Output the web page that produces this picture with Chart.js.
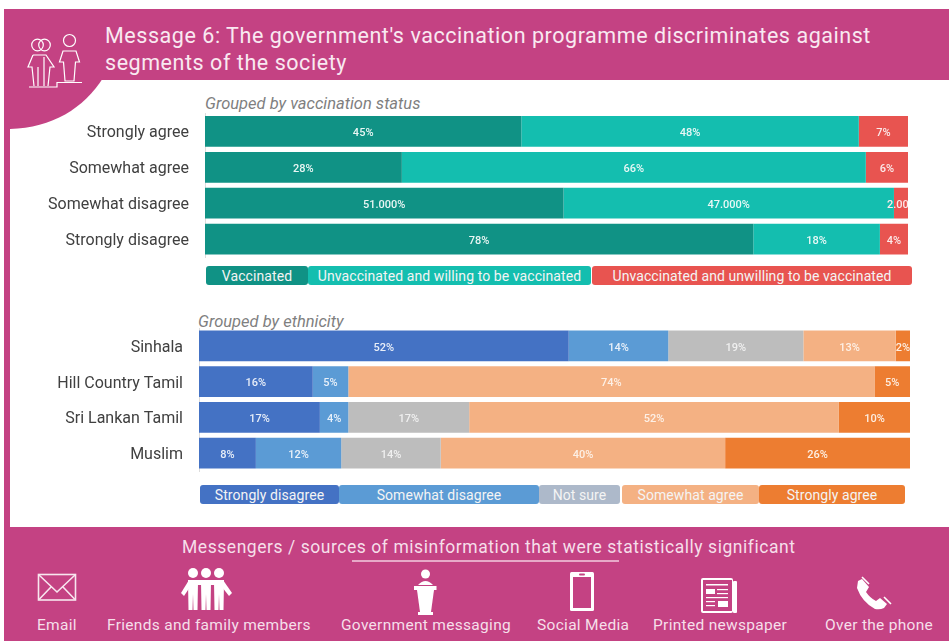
<!DOCTYPE html>
<html>
<head>
<meta charset="utf-8">
<script src="https://cdn.jsdelivr.net/npm/chart.js@4"></script>
<style>
    html, body { margin: 0; padding: 0; background: #fff; }
    body { position: relative; width: 949px; height: 641px; overflow: hidden; font-family: Roboto, sans-serif; }
    .abs { position: absolute; white-space: nowrap; }
    #frame, #icons { position: absolute; left: 0; top: 0; }
    canvas { position: absolute; }
    .headline { left: 105px; color: #f9e9f1; font-size: 21.5px; letter-spacing: 0.55px; line-height: 27px; }
    .group-title { color: #7f7f7f; font-size: 16.5px; font-style: italic; }
    .legend { position: absolute; display: flex; height: 19px; }
    .legend div { color: #f4f4f4; font-size: 14px; line-height: 20px; text-align: center; border-radius: 3px; letter-spacing: 0.08px; white-space: nowrap; }
    .messenger { color: #f6dfea; font-size: 15.5px; letter-spacing: 0.3px; top: 616px; }
</style>
</head>
<body>
<svg id="frame" width="949" height="641">
    <rect x="4" y="9" width="945" height="71" fill="#c44283"/>
    <rect x="4" y="9" width="6" height="530" fill="#c44283"/>
    <rect x="4" y="527" width="945" height="114" fill="#c44283"/>
    <path d="M10 78 H103 C84 108 52 128 10 129 Z" fill="#c44283"/>
</svg>

<div class="abs headline" style="top:22px">Message 6: The government's vaccination programme discriminates against</div>
<div class="abs headline" style="top:49px">segments of the society</div>
<div class="abs group-title" style="left:205px;top:94px">Grouped by vaccination status</div>
<div class="abs group-title" style="left:198px;top:312px">Grouped by ethnicity</div>

<canvas id="status-chart" width="939" height="165" style="left:10px;top:100px"></canvas>
<canvas id="ethnicity-chart" width="939" height="165" style="left:10px;top:315px"></canvas>

<div class="legend" id="status-legend" style="left:206px;top:266px"></div>
<div class="legend" id="ethnicity-legend" style="left:200px;top:485px"></div>

<div class="abs" style="left:182px;top:537px;color:#f6dfea;font-size:17.5px;letter-spacing:0.55px">Messengers / sources of misinformation that were statistically significant</div>
<div class="abs" style="left:352px;top:560px;width:267px;height:1.5px;background:#e7a9c8"></div>

<div class="abs messenger" style="left:37px">Email</div>
<div class="abs messenger" style="left:107px">Friends and family members</div>
<div class="abs messenger" style="left:341px">Government messaging</div>
<div class="abs messenger" style="left:537px">Social Media</div>
<div class="abs messenger" style="left:653px">Printed newspaper</div>
<div class="abs messenger" style="left:825px">Over the phone</div>

<svg id="icons" width="949" height="641">
    <!-- people outline in the header -->
    <g fill="none" stroke="#fff" stroke-width="1.2">
        <circle cx="37.5" cy="45" r="5.8"/><circle cx="44.5" cy="45" r="5.8"/><circle cx="69.5" cy="40.5" r="6"/>
        <path d="M33 55 H46 L54 67 H50 L48 86 M33 55 L28 67 H32 L34 86 M38 67 V86 M44 57 V86"/>
        <path d="M63 51 H76 L79.5 62 H75.5 L74 81 H65 L63.5 62 H59.5 Z"/>
        <path d="M29 87 H57 V82.5 H82"/>
    </g>
    <!-- envelope -->
    <g fill="none" stroke="#f8e6ef" stroke-width="1.6">
        <rect x="38.5" y="574.5" width="37" height="25.5"/>
        <path d="M39 575 L57 592 L75 575 M39 599.5 L51 587 M75 599.5 L63 587"/>
    </g>
    <!-- three people standing together -->
    <g fill="#fff">
        <circle cx="193" cy="573" r="5"/><circle cx="206" cy="573" r="5"/><circle cx="219" cy="573" r="5"/>
        <rect x="188" y="580" width="36" height="5"/>
        <path d="M189 580 L181 593 L184 596 L190 587 Z"/>
        <path d="M223 580 L232 593 L229 596 L222 587 Z"/>
        <path d="M188 582 H198 L197.5 610 H193.5 L193 594 L192.5 610 H188.5 Z"/>
        <path d="M201 582 H211 L210.5 610 H206.5 L206 594 L205.5 610 H201.5 Z"/>
        <path d="M214 582 H224 L223.5 610 H219.5 L219 594 L218.5 610 H214.5 Z"/>
    </g>
    <!-- speaker at a podium -->
    <g fill="#fff">
        <circle cx="425.5" cy="574" r="4.5"/>
        <path d="M418 585 Q425.5 577 433 585 Z"/>
        <rect x="414" y="586" width="22.5" height="4"/>
        <path d="M417 590 H434 L431 612 H420 Z"/>
        <rect x="418" y="612" width="15" height="3"/>
    </g>
    <!-- smartphone -->
    <g>
        <rect x="570" y="572" width="24" height="39" rx="1.5" fill="#fff"/>
        <rect x="573" y="577" width="18" height="31" fill="#c44283"/>
        <rect x="579" y="573.5" width="6" height="2" rx="1" fill="#c44283"/>
    </g>
    <!-- newspaper -->
    <g>
        <rect x="701" y="578" width="32" height="35" rx="2" fill="#fff"/>
        <rect x="733" y="581" width="4" height="32" rx="1" fill="#fff"/>
        <rect x="703" y="580" width="29" height="31" fill="#c44283"/>
        <g fill="#fff">
            <rect x="706" y="584" width="22" height="1.5"/>
            <rect x="706" y="589" width="9" height="5"/>
            <rect x="717" y="589" width="11" height="1.2"/><rect x="717" y="593" width="11" height="1.2"/>
            <rect x="706" y="597" width="22" height="1.2"/>
            <rect x="706" y="601" width="9" height="1.2"/><rect x="706" y="605" width="9" height="1.2"/>
            <rect x="718" y="601" width="10" height="6"/>
        </g>
    </g>
    <!-- telephone handset -->
    <g fill="#fff">
        <path d="M858 581 L862 579 L869 587 L866 592 Q870 598 876 601 L880 598 L887 604 L884 608 Q880 610 875 609 Q862 602 857 588 Z"/>
        <path d="M862 577 L869 584 M884 597 L891 604" fill="none" stroke="#fff" stroke-width="1.6"/>
    </g>
</svg>

<script>
// Vaccination status shares per response
const statusCategories = ['Strongly agree', 'Somewhat agree', 'Somewhat disagree', 'Strongly disagree'];
const vaccinated = [45, 28, 51, 78];
const unvaccinatedWilling = [48, 66, 47, 18];
const unvaccinatedUnwilling = [7, 6, 2, 4];
const statusLabelDecimals = [0, 0, 3, 0];
const statusSeries = ['Vaccinated', 'Unvaccinated and willing to be vaccinated', 'Unvaccinated and unwilling to be vaccinated'];

// Response shares per ethnic group
const ethnicityCategories = ['Sinhala', 'Hill Country Tamil', 'Sri Lankan Tamil', 'Muslim'];
const stronglyDisagree = [52, 16, 17, 8];
const somewhatDisagree = [14, 5, 4, 12];
const notSure = [19, 0, 17, 14];
const somewhatAgree = [13, 74, 52, 40];
const stronglyAgree = [2, 5, 10, 26];
const ethnicityLabelDecimals = [0, 0, 0, 0];
const ethnicitySeries = ['Strongly disagree', 'Somewhat disagree', 'Not sure', 'Somewhat agree', 'Strongly agree'];

const statusColors = ['#109285', '#14beaf', '#e85450'];
const ethnicityColors = ['#4472c4', '#5b9bd5', '#bdbdbd', '#f4b183', '#ed7d31'];

// Writes the percentage in the middle of each segment, cut off at the plot edge
const segmentLabels = {
    id: 'segmentLabels',
    afterDatasetsDraw(chart, args, opts) {
        const ctx = chart.ctx;
        const area = chart.chartArea;
        ctx.save();
        ctx.beginPath();
        ctx.rect(area.left, area.top, area.right - area.left, area.bottom - area.top);
        ctx.clip();
        ctx.font = '500 11px Roboto';
        ctx.textBaseline = 'middle';
        chart.data.datasets.forEach((ds, i) => {
            ctx.fillStyle = ds.labelColor;
            chart.getDatasetMeta(i).data.forEach((bar, j) => {
                const value = ds.data[j];
                if (!value) return;
                const text = value.toFixed(opts.decimals[j]) + '%';
                const width = ctx.measureText(text).width;
                // a label much wider than its segment starts a little before it
                const start = width > bar.x - bar.base + 4 ? bar.base - 7 : (bar.x + bar.base - width) / 2;
                ctx.fillText(text, start, bar.y + 2);
            });
        });
        ctx.restore();
    }
};

function stackedBars(canvasId, categories, seriesNames, seriesValues, colors, labelColors, decimals, axisWidth, padding) {
    return new Chart(document.getElementById(canvasId), {
        type: 'bar',
        data: {
            labels: categories,
            datasets: seriesValues.map((values, idx) => ({
                label: seriesNames[idx],
                data: values,
                backgroundColor: colors[idx],
                labelColor: labelColors[idx],
                categoryPercentage: 1,
                barPercentage: 0.86
            }))
        },
        options: {
            indexAxis: 'y',
            responsive: false,
            animation: false,
            layout: { padding },
            plugins: {
                legend: { display: false },
                tooltip: { enabled: false },
                segmentLabels: { decimals }
            },
            scales: {
                x: { stacked: true, display: false, min: 0, max: 100 },
                y: {
                    stacked: true,
                    afterFit(scale) {
                        scale.width = axisWidth;
                        // tick padding should not eat into the plot height
                        scale.paddingTop = 0;
                        scale.paddingBottom = 0;
                    },
                    grid: { display: false, drawTicks: false },
                    border: { color: '#dcdcdc' },
                    ticks: { color: '#404040', font: { family: 'Roboto', size: 16 }, padding: 16, labelOffset: 2 }
                }
            }
        },
        plugins: [segmentLabels]
    });
}

stackedBars('status-chart', statusCategories, statusSeries,
    [vaccinated, unvaccinatedWilling, unvaccinatedUnwilling],
    statusColors, ['#e9f6f4', '#e9f8f6', '#fbeaea'], statusLabelDecimals,
    195, { top: 13.5, bottom: 8, right: 41, left: 0 });

stackedBars('ethnicity-chart', ethnicityCategories, ethnicitySeries,
    [stronglyDisagree, somewhatDisagree, notSure, somewhatAgree, stronglyAgree],
    ethnicityColors, ['#e8eef8', '#e8f0f9', '#f0f0f0', '#fdf0e6', '#fdeee2'], ethnicityLabelDecimals,
    189, { top: 13, bottom: 9, right: 39, left: 0 });

// Legend strips under each chart
function buildLegend(elementId, names, colors, widths, gaps) {
    const el = document.getElementById(elementId);
    names.forEach((name, idx) => {
        const item = document.createElement('div');
        item.textContent = name;
        item.style.background = colors[idx];
        item.style.width = widths[idx] + 'px';
        item.style.marginRight = gaps[idx] + 'px';
        el.appendChild(item);
    });
}

buildLegend('status-legend', statusSeries, statusColors, [102, 283, 320], [0, 1, 0]);
buildLegend('ethnicity-legend', ethnicitySeries, ['#4472c4', '#5b9bd5', '#adb9ca', '#f4b183', '#ed7d31'], [139, 200, 81, 137, 146], [0, 0, 2, 0, 0]);
</script>
</body>
</html>
